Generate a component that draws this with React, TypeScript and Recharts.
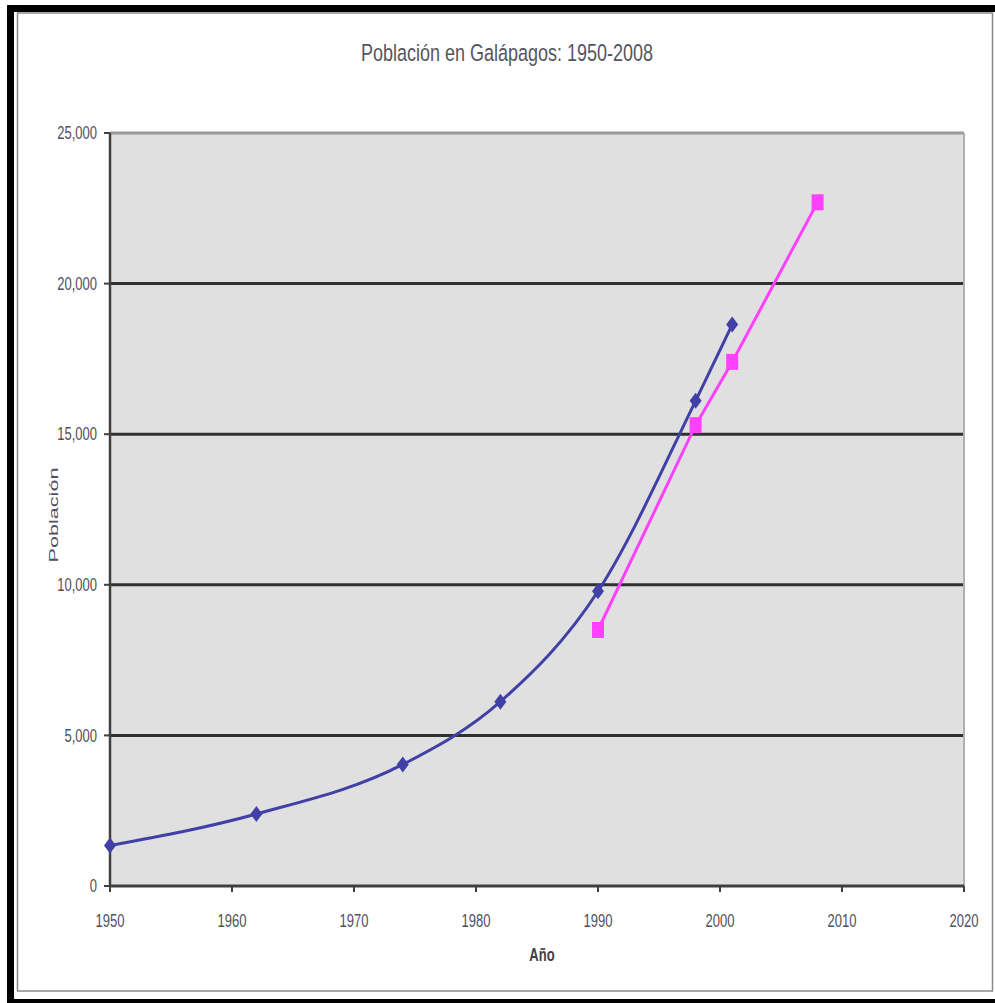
import { CartesianGrid, Line, LineChart, ReferenceLine, XAxis, YAxis } from "recharts";

// Census counts (blue) and the later estimate series (magenta)
const CENSUS_YEARS = [1950, 1962, 1974, 1982, 1990, 1998, 2001];
const CENSUS_POP = [1346, 2391, 4037, 6119, 9785, 16109, 18640];
const ESTIMATE_YEARS = [1990, 1998, 2001, 2008];
const ESTIMATE_POP = [8500, 15300, 17400, 22700];

const X_TICKS = [1950, 1960, 1970, 1980, 1990, 2000, 2010, 2020];
const Y_TICKS = [0, 5000, 10000, 15000, 20000, 25000];
const GRID_VALUES = [5000, 10000, 15000, 20000];

const census = CENSUS_YEARS.map((year, i) => ({ year, pop: CENSUS_POP[i] }));
const estimate = ESTIMATE_YEARS.map((year, i) => ({ year, pop: ESTIMATE_POP[i] }));

const FONT = "'Liberation Sans', Arial, sans-serif";
const TEXT = "#505060";
const AXIS = "#404040";
const STRETCH = 1.35;

const XTick = ({ x, y, payload }: any) => (
	<g transform={`translate(${x},${y}) scale(1,${STRETCH})`}>
		<text textAnchor="middle" dy="0.71em" fontSize={13} fontFamily={FONT} fill={TEXT}>
			{payload.value}
		</text>
	</g>
);

const YTick = ({ x, y, payload }: any) => (
	<g transform={`translate(${x},${y}) scale(1,${STRETCH})`}>
		<text textAnchor="end" dy="0.358em" fontSize={13} fontFamily={FONT} fill={TEXT}>
			{Number(payload.value).toLocaleString("en-US")}
		</text>
	</g>
);

const Diamond = ({ cx, cy, index }: any) => (
	<polygon
		key={`d-${index}`}
		points={`${cx},${cy - 8} ${cx + 6},${cy} ${cx},${cy + 8} ${cx - 6},${cy}`}
		fill="#4040a6"
	/>
);

const Square = ({ cx, cy, index }: any) => (
	<rect key={`s-${index}`} x={cx - 6} y={cy - 8} width={12} height={16} fill="#ff40ff" />
);

export default function App() {
	return (
		<div
			style={{
				position: "absolute",
				left: 0,
				top: 0,
				width: 995,
				height: 1003,
				background: "#fff",
				overflow: "hidden",
			}}
		>
			<LineChart width={995} height={1003} margin={{ top: 133, right: 31, bottom: 57, left: 50 }}>
				<CartesianGrid
					vertical={false}
					horizontalValues={GRID_VALUES}
					stroke="#303030"
					strokeWidth={3}
					fill="#e0e0e0"
				/>
				<ReferenceLine y={25000} stroke="#9a9a9a" strokeWidth={3} />
				<ReferenceLine x={2020} stroke="#b0b0b0" strokeWidth={2} />
				<XAxis
					dataKey="year"
					type="number"
					domain={[1950, 2020]}
					ticks={X_TICKS}
					height={60}
					tickSize={6}
					tickMargin={23}
					tick={<XTick />}
					axisLine={{ stroke: AXIS, strokeWidth: 3 }}
					tickLine={{ stroke: AXIS, strokeWidth: 2 }}
					interval={0}
				/>
				<YAxis
					type="number"
					domain={[0, 25000]}
					ticks={Y_TICKS}
					width={60}
					tickSize={6}
					tickMargin={7}
					tick={<YTick />}
					axisLine={{ stroke: AXIS, strokeWidth: 2.5 }}
					tickLine={{ stroke: AXIS, strokeWidth: 2 }}
					interval={0}
				/>
				<Line
					data={census}
					dataKey="pop"
					type="monotone"
					stroke="#4040a6"
					strokeWidth={3}
					dot={Diamond}
					activeDot={false}
					isAnimationActive={false}
				/>
				<Line
					data={estimate}
					dataKey="pop"
					type="linear"
					stroke="#ff40ff"
					strokeWidth={3}
					dot={Square}
					activeDot={false}
					isAnimationActive={false}
				/>
			</LineChart>

			<svg
				width={995}
				height={1003}
				style={{ position: "absolute", left: 0, top: 0, pointerEvents: "none" }}
			>
				{/* frame */}
				<rect x={7} y={5} width={988} height={7} fill="#000" />
				<rect x={7} y={5} width={7} height={998} fill="#000" />
				<rect x={7} y={999} width={988} height={4} fill="#000" />
				<rect x={17.5} y={13} width={975} height={978} fill="none" stroke="#8a8a8a" strokeWidth={1.5} />

				<g transform={`translate(507,52) scale(1,${STRETCH})`}>
					<text textAnchor="middle" dy="0.358em" fontSize={18} fontFamily={FONT} fill="#555560">
						Población en Galápagos: 1950-2008
					</text>
				</g>
				<g transform="translate(542,955)">
					<text
						textAnchor="middle"
						dy="0.358em"
						fontSize={13}
						fontWeight="bold"
						fontFamily={FONT}
						fill="#404048"
						transform={`scale(1,${STRETCH})`}
					>
						Año
					</text>
				</g>
				<g transform="translate(53,515) rotate(-90)">
					<text
						textAnchor="middle"
						dy="0.358em"
						fontSize={13}
						fontFamily={FONT}
						fill="#505060"
						textLength={95}
						lengthAdjust="spacingAndGlyphs"
					>
						Población
					</text>
				</g>
			</svg>
		</div>
	);
}
